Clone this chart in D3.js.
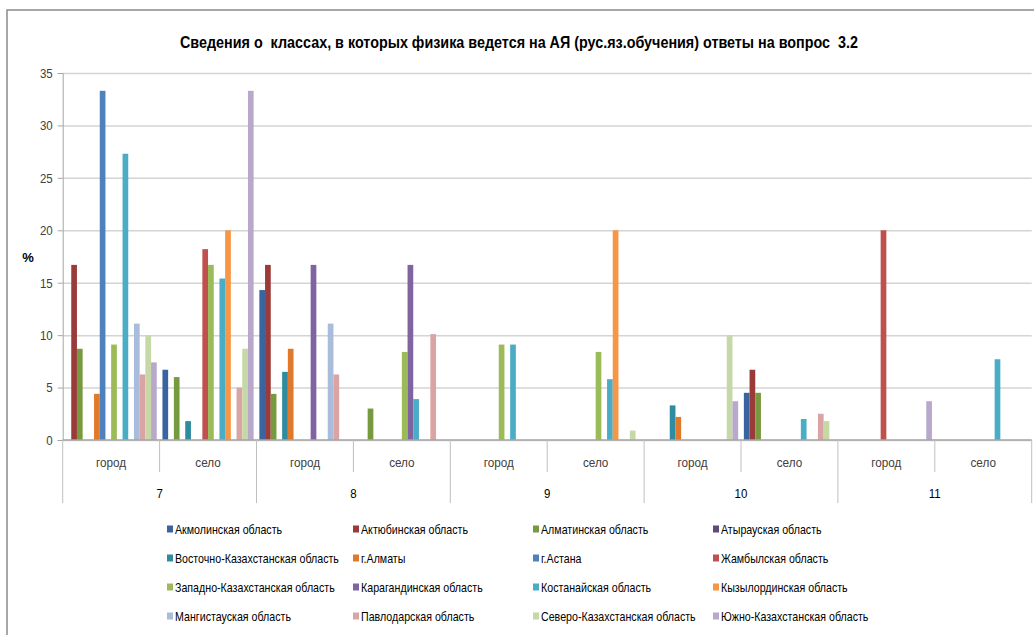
<!DOCTYPE html>
<html>
<head>
<meta charset="utf-8">
<script src="https://cdn.jsdelivr.net/npm/d3@7"></script>
<style>
  html, body { margin: 0; padding: 0; background: #fff; }
  svg { display: block; }
  text { font-family: "Liberation Sans Narrow", "Liberation Sans", sans-serif; white-space: pre; }
</style>
</head>
<body>
<svg id="chart" width="1034" height="635"></svg>
<script>
// ---- data ----
const title = "Сведения о  классах, в которых физика ведется на АЯ (рус.яз.обучения) ответы на вопрос  3.2";
const grades = ["7", "8", "9", "10", "11"];
const places = ["город", "село"];
const categories = ["7-город", "7-село", "8-город", "8-село", "9-город", "9-село", "10-город", "10-село", "11-город", "11-село"];
const yTicks = [0, 5, 10, 15, 20, 25, 30, 35];

const seriesNames = [
  "Акмолинская область", "Актюбинская область", "Алматинская область", "Атырауская область",
  "Восточно-Казахстанская область", "г.Алматы", "г.Астана", "Жамбылская область",
  "Западно-Казахстанская область", "Карагандинская область", "Костанайская область", "Кызылординская область",
  "Мангистауская область", "Павлодарская область", "Северо-Казахстанская область", "Южно-Казахстанская область"
];
const seriesColors = [
  "#3A64A0", "#9A3B3A", "#789A3E", "#604A7B",
  "#2E8BA0", "#E07A2A", "#4F81BD", "#C0504D",
  "#9BBB59", "#8064A2", "#4BACC6", "#F79646",
  "#A9BCDC", "#DBA4A4", "#C6D8A6", "#B8A9CC"
];

// values per series, in category order
const akmola    = [0, 6.7, 14.3, 0, 0, 0, 0, 4.5, 0, 0];
const aktobe    = [16.7, 0, 16.7, 0, 0, 0, 0, 6.7, 0, 0];
const almatyObl = [8.7, 6.0, 4.4, 3.0, 0, 0, 0, 4.5, 0, 0];
const atyrau    = [0, 0, 0, 0, 0, 0, 0, 0, 0, 0];
const vko       = [0, 1.8, 6.5, 0, 0, 0, 3.3, 0, 0, 0];
const almatyCity= [4.4, 0, 8.7, 0, 0, 0, 2.2, 0, 0, 0];
const astana    = [33.3, 0, 0, 0, 0, 0, 0, 0, 0, 0];
const zhambyl   = [0, 18.2, 0, 0, 0, 0, 0, 0, 20.0, 0];
const zko       = [9.1, 16.7, 0, 8.4, 9.1, 8.4, 0, 0, 0, 0];
const karaganda = [0, 0, 16.7, 16.7, 0, 0, 0, 0, 0, 0];
const kostanay  = [27.3, 15.4, 0, 3.9, 9.1, 5.8, 0, 2.0, 0, 7.7];
const kyzylorda = [0, 20.0, 0, 0, 0, 20.0, 0, 0, 0, 0];
const mangystau = [11.1, 0, 11.1, 0, 0, 0, 0, 0, 0, 0];
const pavlodar  = [6.25, 5.0, 6.25, 10.1, 0, 0, 0, 2.5, 0, 0];
const sko       = [10.0, 8.7, 0, 0, 0, 0.9, 10.0, 1.8, 0, 0];
const yuko      = [7.4, 33.3, 0, 0, 0, 0, 3.7, 0, 3.7, 0];

const seriesValues = [akmola, aktobe, almatyObl, atyrau, vko, almatyCity, astana, zhambyl,
                      zko, karaganda, kostanay, kyzylorda, mangystau, pavlodar, sko, yuko];

// ---- drawing ----
const svg = d3.select("#chart");
const condense = (sel, k) => sel.each(function () {
  const w = this.getComputedTextLength();
  d3.select(this).attr("textLength", w * k).attr("lengthAdjust", "spacingAndGlyphs");
});

// outer frame
svg.append("rect").attr("x", 7).attr("y", 10).attr("width", 1040).attr("height", 640)
  .attr("fill", "#fff").attr("stroke", "#8a8a8a").attr("stroke-width", 1.5);

const plot = { left: 62.7, right: 1031.7, top: 73, bottom: 440 };

const x0 = d3.scaleBand().domain(categories).range([plot.left, plot.right]).padding(0);
const x1 = d3.scaleBand().domain(d3.range(seriesNames.length)).range([0, x0.bandwidth()])
  .paddingInner(0).paddingOuter(0.5);
const y = d3.scaleLinear().domain([0, 35]).range([plot.bottom, plot.top]);

// title
svg.append("text").attr("x", 519).attr("y", 48).attr("text-anchor", "middle")
  .attr("font-size", 16.5).attr("font-weight", "bold").attr("fill", "#000")
  .attr("textLength", 678).attr("lengthAdjust", "spacingAndGlyphs")
  .text(title);

// gridlines
const grid = svg.append("g").attr("transform", `translate(${plot.left},0)`)
  .call(d3.axisLeft(y).tickValues(yTicks).tickSize(-(plot.right - plot.left)).tickFormat(""));
grid.select(".domain").remove();
grid.selectAll("line").attr("stroke", "#d4d4d4").attr("stroke-width", 1.5);

// y axis
const yAxis = svg.append("g").attr("transform", `translate(${plot.left},0)`)
  .call(d3.axisLeft(y).tickValues(yTicks).tickSize(5).tickPadding(5));
yAxis.select(".domain").attr("stroke", "#a6a6a6").attr("stroke-width", 1);
yAxis.selectAll(".tick line").attr("stroke", "#a6a6a6");
yAxis.selectAll(".tick text").attr("font-size", 13.5).attr("fill", "#404040")
  .attr("font-family", "'Liberation Sans Narrow', 'Liberation Sans', sans-serif")
  .call(condense, 0.85);

svg.append("text").attr("x", 28).attr("y", 262).attr("text-anchor", "middle")
  .attr("font-size", 13).attr("font-weight", "bold").attr("fill", "#000").text("%");

// bars
const groups = svg.append("g").selectAll("g").data(categories).join("g")
  .attr("transform", d => `translate(${x0(d)},0)`);
groups.selectAll("rect")
  .data((c, ci) => seriesValues.map((vals, si) => ({ si, v: vals[ci] })).filter(d => d.v > 0))
  .join("rect")
  .attr("x", d => x1(d.si))
  .attr("width", x1.bandwidth())
  .attr("y", d => y(d.v))
  .attr("height", d => y(0) - y(d.v))
  .attr("fill", d => seriesColors[d.si]);

// x axis baseline
svg.append("line").attr("x1", plot.left).attr("x2", plot.right)
  .attr("y1", plot.bottom).attr("y2", plot.bottom)
  .attr("stroke", "#a6a6a6").attr("stroke-width", 1.5);

// separators
const bounds = categories.map(c => x0(c)).concat([plot.right]);
svg.append("g").selectAll("line").data(bounds).join("line")
  .attr("x1", d => d).attr("x2", d => d)
  .attr("y1", plot.bottom)
  .attr("y2", (d, i) => i % 2 === 0 ? 503 : 472)
  .attr("stroke", "#bfbfbf").attr("stroke-width", 1);

// sub labels
svg.append("g").selectAll("text").data(categories).join("text")
  .attr("x", d => x0(d) + x0.bandwidth() / 2)
  .attr("y", 467).attr("text-anchor", "middle")
  .attr("font-size", 13).attr("fill", "#404040")
  .text((d, i) => places[i % 2])
  .call(condense, 0.9);

// grade labels
svg.append("g").selectAll("text").data(grades).join("text")
  .attr("x", (d, i) => x0(categories[i * 2]) + x0.bandwidth())
  .attr("y", 498).attr("text-anchor", "middle")
  .attr("font-size", 13.5).attr("fill", "#000")
  .text(d => d)
  .call(condense, 0.85);

// legend
const legCols = [167, 353, 533, 713];
const legRows = [529, 558, 587, 616];
const leg = svg.append("g").selectAll("g").data(seriesNames).join("g")
  .attr("transform", (d, i) => `translate(${legCols[i % 4]},${legRows[Math.floor(i / 4)]})`);
leg.append("rect").attr("x", 0).attr("y", -3.5).attr("width", 6).attr("height", 7)
  .attr("fill", (d, i) => seriesColors[i]);
leg.append("text").attr("transform", "translate(8,4.5) scale(0.82,1)")
  .attr("font-size", 13).attr("fill", "#000").text(d => d);
</script>
</body>
</html>
